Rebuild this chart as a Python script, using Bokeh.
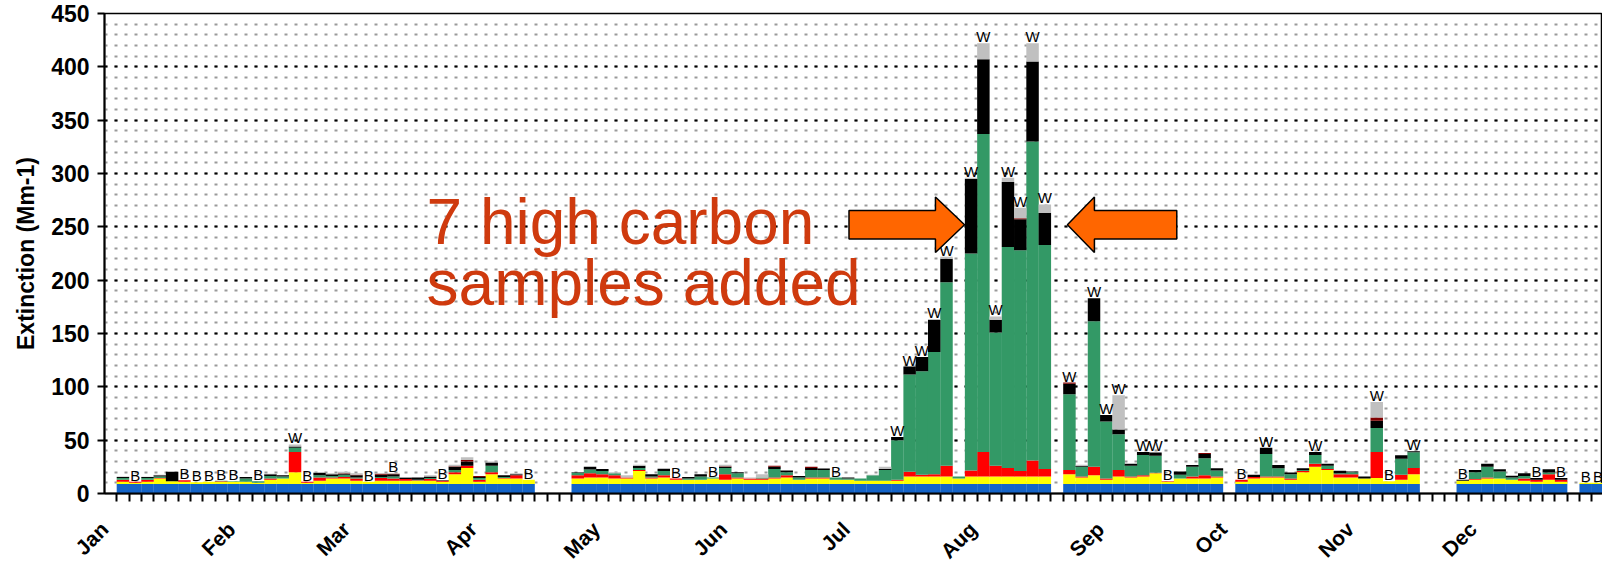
import math
from bokeh.plotting import figure
from bokeh.models import ColumnDataSource, Range1d, FixedTicker, SingleIntervalTicker, Label
from bokeh.core.properties import value
from bokeh.embed import file_html
from bokeh.resources import INLINE

# ---- data: one entry per 3-day sample slot (slot k spans days 3k..3k+3) ----
rayleigh = [0, 9, 9, 9, 9, 9, 9, 9, 9, 9, 9, 9, 9, 9, 9, 9, 9, 9, 9, 9,
            9, 9, 9, 9, 9, 9, 9, 9, 9, 9, 9, 9, 9, 9, 9, 0, 0, 0, 9, 9,
            9, 9, 9, 9, 9, 9, 9, 9, 9, 9, 9, 9, 9, 9, 9, 9, 9, 9, 9, 9,
            9, 9, 9, 9, 9, 9, 9, 9, 9, 9, 9, 9, 9, 9, 9, 9, 9, 0, 9, 9,
            9, 9, 9, 9, 9, 9, 9, 9, 9, 9, 9, 0, 9, 9, 9, 9, 9, 9, 9, 9,
            9, 9, 9, 9, 9, 9, 9, 0, 0, 0, 9, 9, 9, 9, 9, 9, 9, 9, 9, 0,
            9, 9]
sulfate = [0, 2, 1, 2, 5, 2.5, 2, 1.5, 2, 2, 2, 2, 1, 4, 5, 11, 1, 3, 5, 5,
           3, 2, 3, 3, 3, 3, 3, 2, 9, 15, 2, 9, 5, 5, 4, 0, 0, 0, 5, 6,
           6, 5, 5, 12, 5, 6, 4, 4, 4, 5, 4, 5, 4, 4, 5, 6, 4, 5, 5, 4,
           4, 3, 3, 3, 3, 7, 7, 7, 7, 5, 7, 7, 7, 7, 7, 7, 7, 0, 9, 6,
           8, 4, 7, 6, 7, 10, 2, 5, 5, 5, 6, 0, 2, 5, 6, 6, 4, 11, 16, 13,
           6, 6, 5, 5.5, 2.5, 4, 9, 0, 0, 0, 3, 4, 5, 5, 4, 3, 2, 4, 2, 0,
           1, 1]
nitrate = [0, 2, 1, 2, 0.5, 0, 1.5, 0, 0, 0.5, 0, 0, 0, 1, 0, 19, 1, 3, 1, 1.5,
           2, 0, 2.5, 2, 1.5, 0.5, 1.5, 1, 2, 2, 2, 2, 0.5, 3, 0, 0, 0, 0, 3, 4,
           3, 3, 1, 1, 1, 2, 1, 0, 0, 0, 5, 1, 1, 1, 1, 2, 0, 1, 1, 0,
           0, 0, 0, 0, 1, 4.5, 1.5, 2, 10, 0, 5.5, 23, 10, 8, 5, 15, 7, 0, 4, 1,
           8, 1, 6, 1, 1, 0.5, 0.5, 0, 2, 3, 1, 0, 2, 1.5, 1, 1, 1, 1, 3, 1,
           3, 3, 0, 24.3, 0, 4.5, 6, 0, 0, 0, 0, 0.5, 1, 0, 0, 2, 2, 5, 2, 0,
           0, 0]
organic = [0, 1.5, 0, 1.5, 1.5, 0, 0, 0, 0, 0.5, 0.5, 3, 1.5, 2.5, 2, 4, 0, 2, 1.5, 2,
           1, 0, 1, 2, 0, 0.5, 1, 0, 2, 0, 1.5, 6, 1, 0, 0, 0, 0, 0, 2.5, 3.5,
           3, 2, 0, 2, 1, 4, 0, 1, 3, 1, 6, 4, 0, 1, 8, 3, 2, 7, 7, 2,
           1, 2, 5, 10, 37, 91, 97, 114.7, 172, 2, 203.5, 298, 125, 207, 207, 299, 210, 0, 71, 9,
           136.5, 53.6, 33.5, 10, 19, 16, 0, 3.6, 9, 16, 5.6, 0, 0, 0, 21, 7.7, 4, 1, 8, 3,
           1, 2, 0, 22.7, 0, 15, 14.7, 0, 0, 0, 0, 6.5, 10, 6.7, 2, 2.5, 0, 1.7, 0, 0,
           0, 0]
lac = [0, 1, 0, 1, 1, 9, 0, 0, 0, 0, 0, 1.5, 0, 1.5, 1, 1, 0, 2.5, 1.5, 1,
       2, 0, 2, 2, 1.5, 2, 1.5, 0.5, 3, 4, 1, 3, 1.5, 1, 0, 0, 0, 0, 0.5, 2.5,
       2, 0, 0, 2, 2, 2, 0, 1.5, 2, 0, 1, 1, 0, 0, 2, 1.5, 1.5, 2, 1.5, 0,
       1, 0, 0, 1, 3, 7.5, 13.5, 30, 22, 0, 70, 70, 12, 61, 29, 75, 30, 0, 10, 1,
       21.5, 6, 4.5, 2, 3, 3, 0, 3, 1.7, 4, 2, 0, 0, 2, 6, 3, 1.7, 1.6, 3, 2,
       2, 0.6, 2, 6.7, 0, 3.3, 1, 0, 0, 0, 1, 2, 3, 2, 1.7, 2.5, 1.5, 3, 1.5, 0,
       0, 0]
soil = [0, 0, 0, 0, 0, 0, 0, 0, 0, 0, 0, 0, 0, 0, 0, 0, 0, 0, 0, 0.5,
        0.5, 0, 1, 0.5, 0, 0, 0, 0, 0.5, 1.5, 1, 0, 0, 0, 0, 0, 0, 0, 0, 0,
        0, 0, 0, 0, 0, 0, 0, 0, 0, 0, 0.5, 0, 0, 0, 1, 0, 0, 1, 0, 0,
        0, 0, 0, 0, 0, 0, 0, 0, 0, 0, 0, 0, 0, 0, 1, 0, 0, 0, 1, 0,
        0, 0, 0, 0, 0, 0, 0, 0, 0, 1, 0, 0, 0, 0, 0, 0, 0, 0, 0, 0,
        0, 0, 0, 3, 0, 0, 0, 0, 0, 0, 0, 0, 0, 0, 0, 0, 0, 0, 0, 0,
        0, 0]
coarse = [0, 0.5, 0, 0.3, 0.5, 0, 0, 0, 0, 0, 0, 0, 0, 0.5, 0, 2, 0, 0.5, 1, 1.5,
          1.5, 0, 0.5, 0.5, 0.5, 0, 1, 0, 1.5, 2.5, 0, 1, 0, 1, 0, 0, 0, 0, 0, 0,
          0, 1, 2, 1, 0, 1, 0, 0, 0, 0, 1.5, 0, 1, 3, 0, 0, 0, 0, 0, 0,
          0, 0, 0.5, 2, 0, 0, 0, 1, 2, 0, 1, 15, 3, 4, 10, 17, 8, 0, 0, 1,
          0, 0, 32, 0, 0, 0, 0, 0, 0, 0, 0, 0, 0, 0, 0, 0, 0, 0, 0, 0,
          1, 0, 0, 14.6, 0, 0, 0, 0, 0, 0, 0, 0, 0, 0, 0, 0, 0, 0, 0, 0,
          0, 0]
flags = {2: "B", 6: "B", 7: "B", 8: "B", 9: "B", 10: "B", 12: "B", 15: "W", 16: "B",
         21: "B", 23: "B", 27: "B", 34: "B", 46: "B", 49: "B", 59: "B",
         64: "W", 65: "W", 66: "W", 67: "W", 68: "W", 70: "W", 71: "W", 72: "W",
         73: "W", 74: "W", 75: "W", 76: "W", 78: "W", 80: "W", 81: "W", 82: "W",
         84: "W", 85: "W", 86: "B", 92: "B", 94: "W", 98: "W", 103: "W", 104: "B",
         106: "W", 110: "B", 116: "B", 118: "B", 120: "B", 121: "B"}
month_names = ["Jan", "Feb", "Mar", "Apr", "May", "Jun", "Jul", "Aug", "Sep", "Oct", "Nov", "Dec"]
month_start_day = [0, 31, 59, 90, 120, 151, 181, 212, 243, 273, 304, 334]
days_per_sample = 3

series = ["rayleigh", "sulfate", "nitrate", "organic", "lac", "soil", "coarse"]
colors = ["#1464C8", "#FFFF00", "#FF0000", "#339966", "#000000", "#800000", "#C0C0C0"]

n = len(rayleigh)
slot_center = [days_per_sample * k + days_per_sample / 2 for k in range(n)]
src = ColumnDataSource(dict(x=slot_center, rayleigh=rayleigh, sulfate=sulfate, nitrate=nitrate,
                            organic=organic, lac=lac, soil=soil, coarse=coarse))

FONT = "Liberation Sans"
X_END = 365.6

p = figure(width=1602, height=573, x_range=Range1d(0, X_END), y_range=Range1d(0, 450),
           output_backend="svg", toolbar_location=None,
           min_border_left=104, min_border_right=0, min_border_top=13, min_border_bottom=70)
p.background_fill_color = "white"
p.outline_line_color = "black"
p.outline_line_width = 1.5

p.vbar_stack(series, x="x", width=days_per_sample * 1.015, source=src,
             fill_color=colors, line_color=None)

# flag labels on top of bars
lx, ly, lt = [], [], []
for k, t in flags.items():
    tot = rayleigh[k] + sulfate[k] + nitrate[k] + organic[k] + lac[k] + soil[k] + coarse[k]
    lx.append(slot_center[k]); ly.append(tot); lt.append(t)
p.text(x=lx, y=ly, text=lt, text_align="center", text_baseline="bottom",
       text_font=value(FONT), text_font_size="15px", text_color="black", y_offset=2)

# grid
p.xgrid.visible = False
p.yaxis.ticker = SingleIntervalTicker(interval=50, num_minor_ticks=5)
p.ygrid.grid_line_color = "black"
p.ygrid.grid_line_width = 2
p.ygrid.grid_line_dash = "3 7"
p.ygrid.minor_grid_line_color = "#9a9a9a"
p.ygrid.minor_grid_line_width = 2
p.ygrid.minor_grid_line_dash = "3 7"

# y axis
ya = p.yaxis[0]
ya.axis_label = "Extinction (Mm-1)"
ya.axis_label_text_font = FONT
ya.axis_label_text_font_style = "bold"
ya.axis_label_text_font_size = "23px"
ya.axis_label_text_color = "black"
ya.axis_label_standoff = 9
ya.axis_line_width = 2
ya.axis_line_color = "black"
ya.major_tick_out = 7
ya.major_tick_in = 0
ya.major_tick_line_width = 2
ya.minor_tick_line_color = None
ya.major_label_text_font = FONT
ya.major_label_text_font_style = "bold"
ya.major_label_text_font_size = "23px"
ya.major_label_text_color = "black"
ya.major_label_standoff = 8

# x axis
xa = p.xaxis[0]
xa.ticker = FixedTicker(ticks=month_start_day,
                        minor_ticks=[days_per_sample * k for k in range(1, n + 1)])
xa.major_label_overrides = {d: m for d, m in zip(month_start_day, month_names)}
xa.major_label_orientation = math.pi / 4
xa.major_tick_line_color = None
xa.minor_tick_line_color = "black"
xa.minor_tick_line_width = 2
xa.minor_tick_out = 8
xa.minor_tick_in = 0
xa.axis_line_width = 2
xa.axis_line_color = "black"
xa.major_label_text_font = FONT
xa.major_label_text_font_style = "bold"
xa.major_label_text_font_size = "21px"
xa.major_label_text_color = "black"
xa.major_label_standoff = 24

# annotation text
ANN_COLOR = "#CF3A0E"
for txt, yy in [("7 high carbon", 255.0), ("samples added", 197.0)]:
    p.add_layout(Label(x=78.6, y=yy, text=txt, text_font=FONT, text_font_size="64px",
                       text_color=ANN_COLOR, text_baseline="alphabetic", text_align="left"))

# block arrows (data coordinates)
def block_arrow(x_tail, x_base, x_tip, y_mid, shaft_half, head_half):
    xs = [x_tail, x_base, x_base, x_tip, x_base, x_base, x_tail]
    ys = [y_mid + shaft_half, y_mid + shaft_half, y_mid + head_half, y_mid,
          y_mid - head_half, y_mid - shaft_half, y_mid - shaft_half]
    return xs, ys

for tail, base, tip in [(181.7, 202.8, 209.9), (261.7, 241.6, 235.0)]:
    xs, ys = block_arrow(tail, base, tip, 252.0, 13.3, 26.0)
    p.patch(xs, ys, fill_color="#FF6600", line_color="black", line_width=1.5)

open("out.html", "w").write(file_html(p, INLINE))
